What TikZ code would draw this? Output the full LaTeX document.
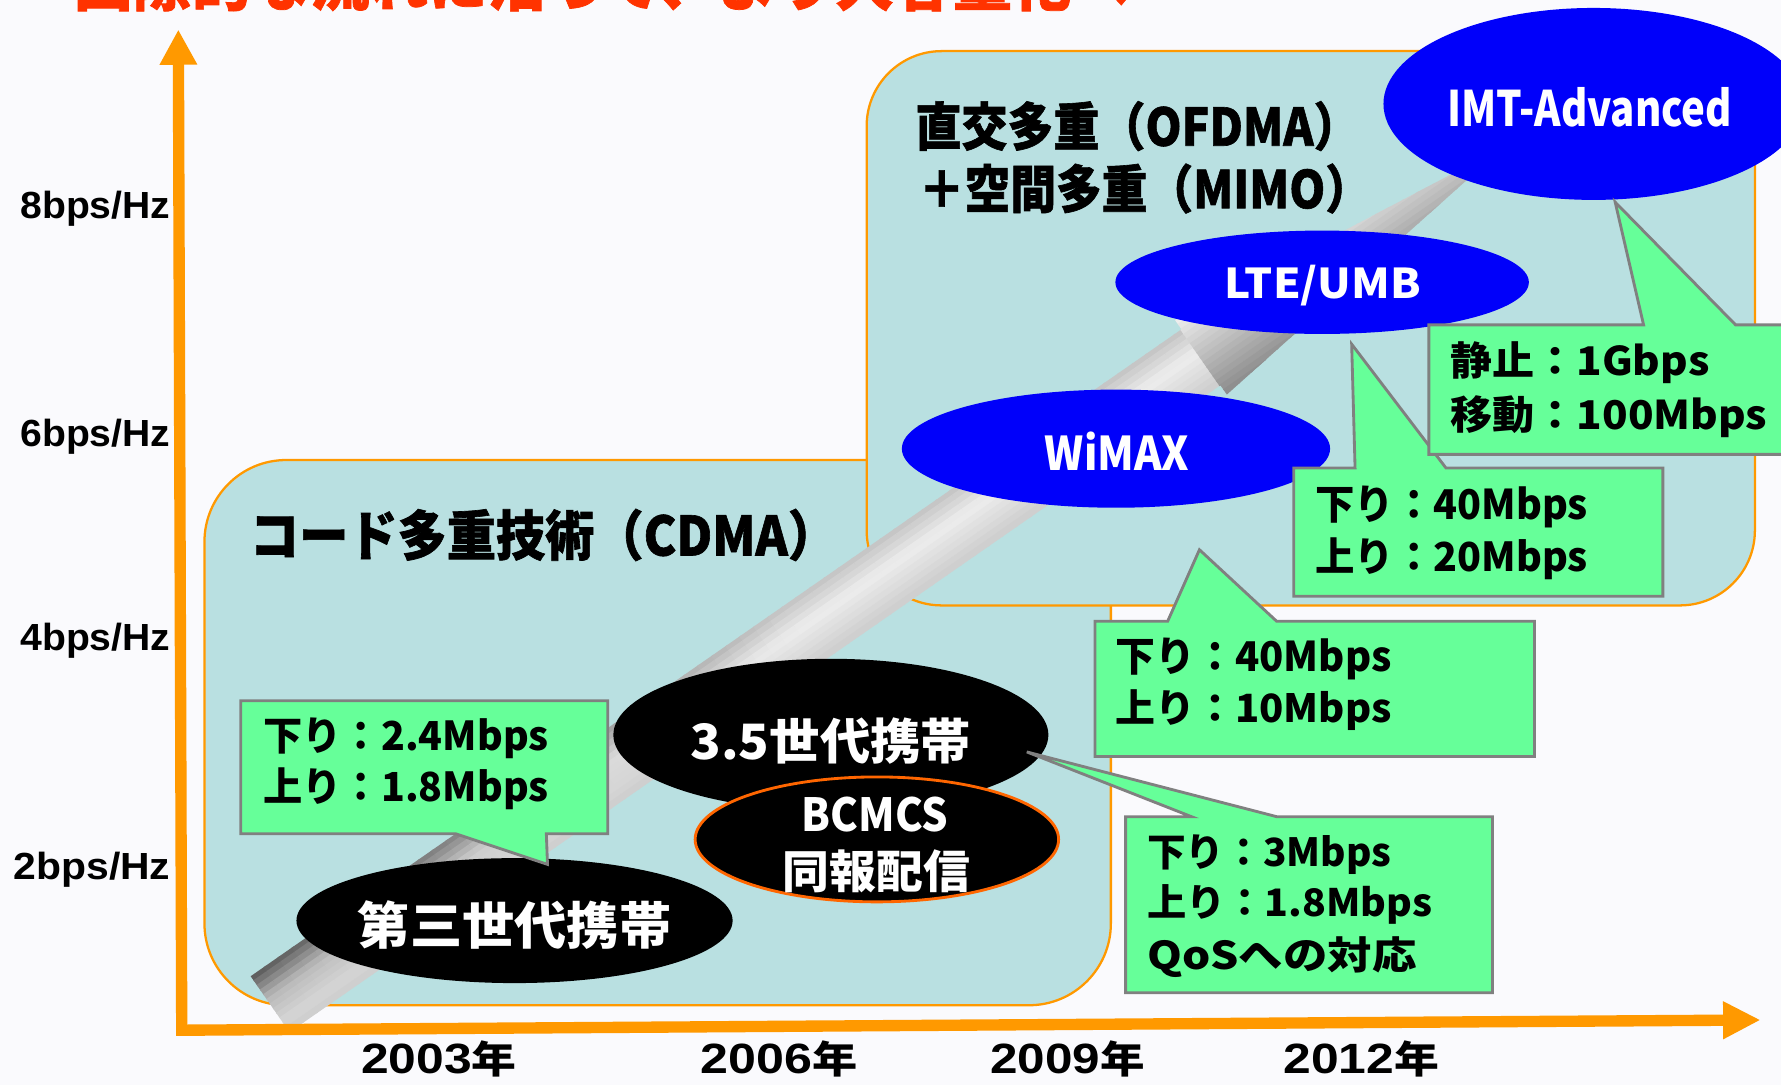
\documentclass[tikz,border=0pt]{standalone}
\usepackage{fontspec}
\usepackage{graphicx}
\usetikzlibrary{shapes.geometric,arrows.meta}

\newfontfamily\jp{Noto Sans CJK JP}
\newfontfamily\jph{Noto Sans CJK JP}[BoldFeatures={FakeBold=1.2}]
\newfontfamily\lsans{Liberation Sans}
% set a text line into a box of given ink width and total height
\newcommand{\fitt}[3]{\resizebox*{#1pt}{#2pt}{#3}}

\definecolor{axisorange}{RGB}{255,153,0}
\definecolor{panelfill}{RGB}{185,224,225}
\definecolor{calloutfill}{RGB}{102,255,153}
\definecolor{calloutline}{RGB}{128,128,128}
\definecolor{techblue}{RGB}{0,0,250}
\definecolor{bcmcsline}{RGB}{255,102,0}
\definecolor{headline}{RGB}{255,51,0}
\definecolor{pagebg}{RGB}{250,250,253}

\begin{document}
\begin{tikzpicture}[x=1pt,y=-1pt,
  panel/.style={fill=panelfill, draw=axisorange, line width=2pt},
  axisline/.style={draw=axisorange, line width=10pt, line join=miter,
    {Triangle[length=31pt,width=31pt]}-{Triangle[length=33pt,width=31pt]}},
  callout/.style={fill=calloutfill, draw=calloutline, line width=2.5pt, line join=miter},
  blob/.style={ellipse, inner sep=0pt, outer sep=0pt},
  txt/.style={inner sep=0pt, outer sep=0pt, anchor=north west, font=\fontsize{40}{44}\selectfont},
  txtr/.style={txt, anchor=north east},
]

\useasboundingbox (0,0) rectangle (1568,955);
\fill[pagebg] (0,0) rectangle (1568,955);

% headline, mostly above the page edge
\node[txt, text=headline] (headline) at (65,-42)
  {\fitt{930}{52}{\jph\bfseries 国際的な流れに沿って、より大容量化へ}};

% technology panels
\draw[panel, rounded corners=72pt] (180,405) rectangle (978,885);
\draw[panel, rounded corners=66pt] (763,45) rectangle (1545,533);

% evolution arrow (shaded block arrow)
\begin{scope}[shift={(237.8,884.1)}, rotate=34.8]
  \clip (0,-30) -- (998,-30) -- (998,-40) -- (1324,0) -- (998,40) -- (998,30) -- (0,30) -- cycle;
  \foreach \i in {0,...,66}{
    \foreach \j in {0,...,11}{
      \pgfmathsetmacro{\tl}{15*\i}
      \pgfmathsetmacro{\tw}{-27.5+5*\j}
      \pgfmathsetmacro{\tp}{ifthenelse(\tw<-5, 0.76+(\tw+30)*0.0068, 0.93-(\tw+5)*0.0037)}
      \pgfmathsetmacro{\td}{0.42*max(0,1-\tl/560)*max(0,(20-\tw)/50)}
      \pgfmathsetmacro{\tg}{max(0,\tp-\td)}
      \definecolor{tubecell}{gray}{\tg}
      \fill[tubecell] (\tl-1,\tw-3.2) rectangle (\tl+16,\tw+3.2);
    }
  }
  \foreach \i in {0,...,21}{
    \foreach \j in {0,...,15}{
      \pgfmathsetmacro{\tl}{998+15*\i}
      \pgfmathsetmacro{\tw}{-37.5+5*\j}
      \pgfmathsetmacro{\tg}{0.94-(\tw+40)*0.0049}
      \definecolor{tubecell}{gray}{\tg}
      \fill[tubecell] (\tl-1,\tw-3.2) rectangle (\tl+16,\tw+3.2);
    }
  }
\end{scope}

% axes
\coordinate (ytip) at (157,26);
\coordinate (origin) at (160,907);
\coordinate (xtip) at (1550,898);
\draw[axisline] (ytip) -- (origin) -- (xtip);

% technology ellipses
\node[blob, fill=black, minimum width=384pt, minimum height=110pt] (gen3) at (453,810.5) {};
\node[blob, fill=black, minimum width=383pt, minimum height=134pt] (gen35) at (731.5,647) {};
\node[blob, fill=black, draw=bcmcsline, line width=2.5pt, minimum width=320pt, minimum height=110pt] (bcmcs) at (772,739) {};
\node[blob, fill=techblue, minimum width=377pt, minimum height=104pt] (wimax) at (982.5,395) {};
\node[blob, fill=techblue, minimum width=364pt, minimum height=91pt] (lte) at (1164,248.5) {};
\node[blob, fill=techblue, minimum width=370pt, minimum height=169pt] (imt) at (1403,91.5) {};

% callouts
\coordinate (tipA) at (482,761);
\draw[callout] (212,617) -- (535,617) -- (535,734) -- (481,734) -- (tipA) -- (401,734) -- (212,734) -- cycle;
\coordinate (tipB) at (904,662);
\draw[callout] (991,719) -- (1049,719) -- (tipB) -- (1124,719) -- (1314,719) -- (1314,874) -- (991,874) -- cycle;
\coordinate (tipC) at (1056,484);
\draw[callout] (964,547) -- (1028,547) -- (tipC) -- (1124,547) -- (1351,547) -- (1351,666) -- (964,666) -- cycle;
\coordinate (tipD) at (1190,303);
\draw[callout] (1139,412) -- (1193,412) -- (tipD) -- (1273,412) -- (1464,412) -- (1464,525) -- (1139,525) -- cycle;
\coordinate (tipE) at (1422,178);
\draw[callout] (1258,286) -- (1447,286) -- (tipE) -- (1528,286) -- (1600,286) -- (1600,400) -- (1258,400) -- cycle;

% panel titles
\node[txt] (cdma) at (220,448) {\fitt{517}{46}{\jph\bfseries コード多重技術（CDMA）}};
\node[txt] (ofdma) at (806,89) {\fitt{391}{44}{\jph\bfseries 直交多重（OFDMA）}};
\node[txt] (mimo) at (809,144) {\fitt{398}{44}{\jph\bfseries ＋空間多重（MIMO）}};

% ellipse labels
\node[txt, text=white] (t3g) at (315,793) {\fitt{276}{43}{\jp\bfseries 第三世代携帯}};
\node[txt, text=white] (t35) at (608,632) {\fitt{247}{41}{\jp\bfseries 3.5世代携帯}};
\node[txt, text=white] (tbc1) at (706,702) {\fitt{129}{31}{\jp\bfseries BCMCS}};
\node[txt, text=white] (tbc2) at (689,748) {\fitt{165}{38}{\jp\bfseries 同報配信}};
\node[txt, text=white] (twimax) at (920,380) {\fitt{127}{34}{\jp\bfseries WiMAX}};
\node[txt, text=white] (tlte) at (1078,233) {\fitt{173}{36}{\jp\bfseries LTE/UMB}};
\node[txt, text=white] (timt) at (1274,77) {\fitt{251}{35}{\jp\bfseries IMT-Advanced}};

% callout texts
\node[txt] (a1) at (232,632) {\fitt{251}{36}{\jp\bfseries 下り：2.4Mbps}};
\node[txt] (a2) at (232,676) {\fitt{251}{37}{\jp\bfseries 上り：1.8Mbps}};
\node[txt] (b1) at (1010,735) {\fitt{215}{35}{\jp\bfseries 下り：3Mbps}};
\node[txt] (b2) at (1010,779) {\fitt{251}{35}{\jp\bfseries 上り：1.8Mbps}};
\node[txt] (b3) at (1010,825) {\fitt{237}{36}{\jp\bfseries QoSへの対応}};
\node[txt] (c1) at (982,562) {\fitt{243}{37}{\jp\bfseries 下り：40Mbps}};
\node[txt] (c2) at (982,607.5) {\fitt{243}{36}{\jp\bfseries 上り：10Mbps}};
\node[txt] (d1) at (1158,428) {\fitt{240}{37}{\jp\bfseries 下り：40Mbps}};
\node[txt] (d2) at (1158,473.5) {\fitt{240}{37}{\jp\bfseries 上り：20Mbps}};
\node[txt] (e1) at (1277,301) {\fitt{228}{37}{\jp\bfseries 静止：1Gbps}};
\node[txt] (e2) at (1277,348) {\fitt{279}{37}{\jp\bfseries 移動：100Mbps}};

% axis labels
\node[txtr] (y8) at (150,168) {\fitt{132}{31}{\lsans\bfseries 8bps/Hz}};
\node[txtr] (y6) at (150,369) {\fitt{132}{31}{\lsans\bfseries 6bps/Hz}};
\node[txtr] (y4) at (150,549) {\fitt{132}{31}{\lsans\bfseries 4bps/Hz}};
\node[txtr] (y2) at (150,750) {\fitt{138}{31}{\lsans\bfseries 2bps/Hz}};

\node[txt] (yr03) at (318,916) {\fitt{137}{32}{{\lsans\bfseries 2003}{\jp\bfseries\fontsize{36}{40}\selectfont 年}}};
\node[txt] (yr06) at (617,916) {\fitt{138}{32}{{\lsans\bfseries 2006}{\jp\bfseries\fontsize{36}{40}\selectfont 年}}};
\node[txt] (yr09) at (872,916) {\fitt{136}{32}{{\lsans\bfseries 2009}{\jp\bfseries\fontsize{36}{40}\selectfont 年}}};
\node[txt] (yr12) at (1130,916) {\fitt{137}{32}{{\lsans\bfseries 2012}{\jp\bfseries\fontsize{36}{40}\selectfont 年}}};

\end{tikzpicture}
\end{document}
